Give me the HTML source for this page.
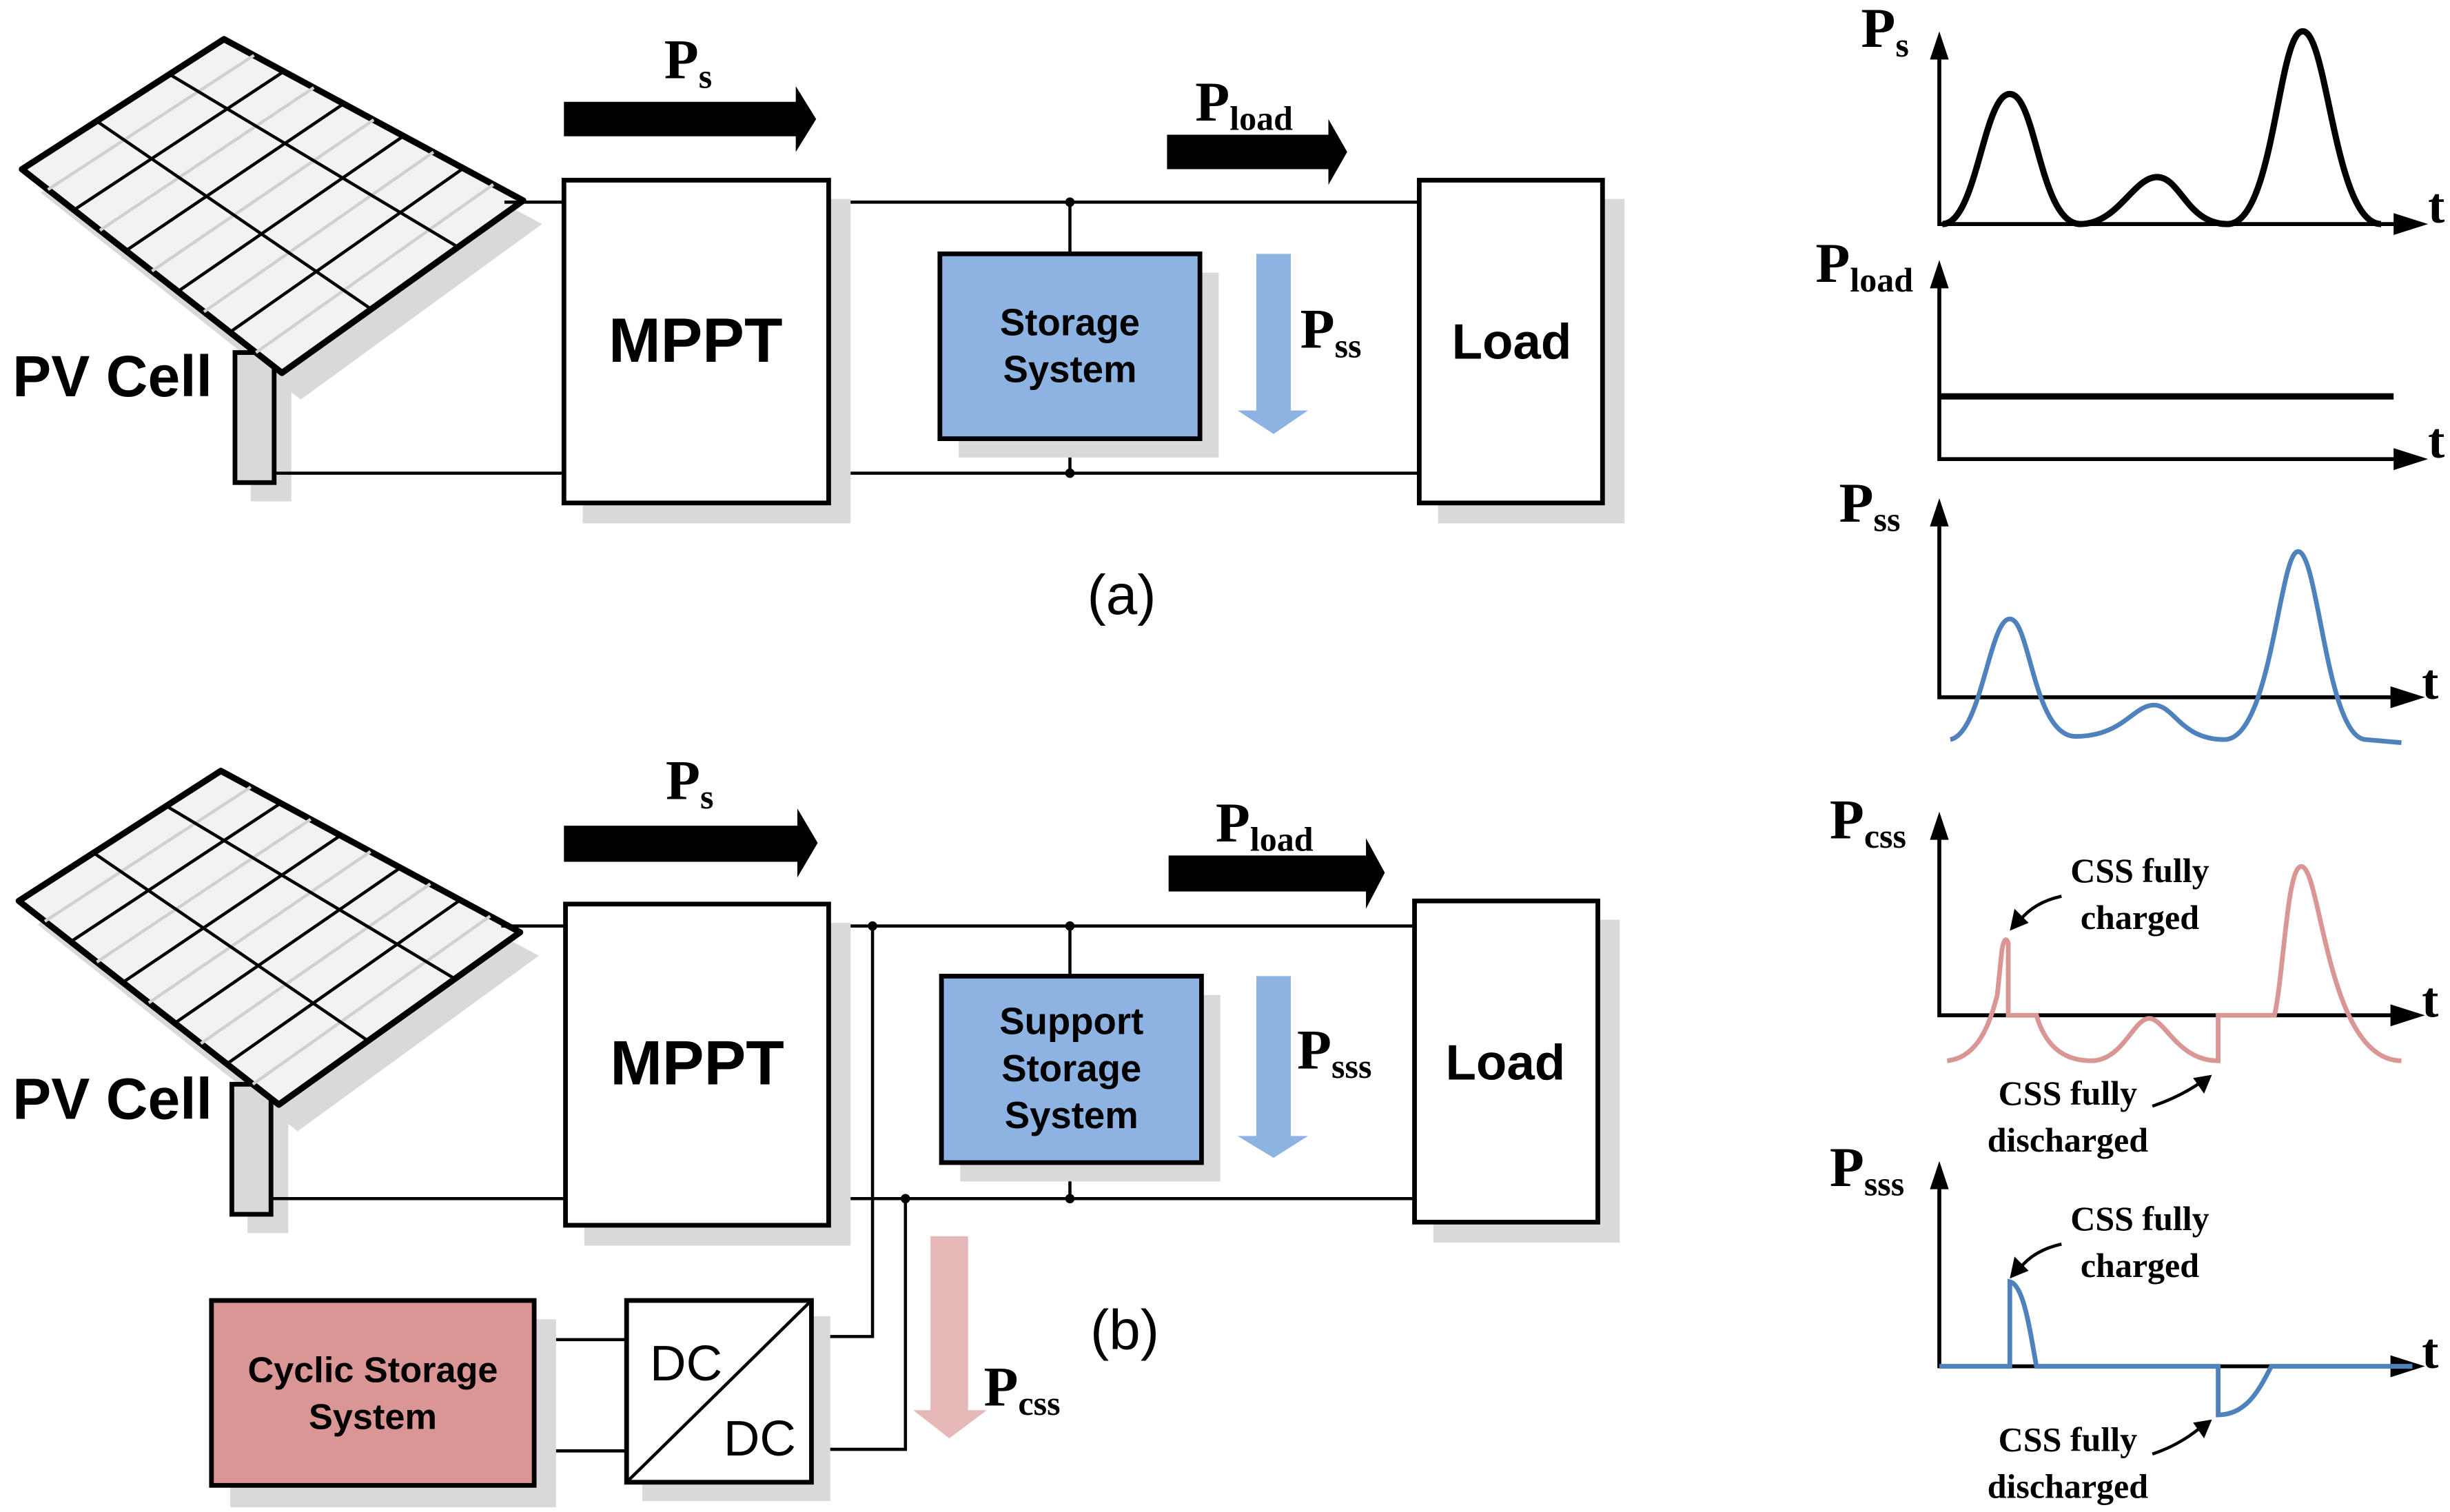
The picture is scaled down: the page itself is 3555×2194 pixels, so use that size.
<!DOCTYPE html>
<html><head><meta charset="utf-8"><style>
html,body{margin:0;padding:0;background:#fff}
svg{display:block}
.s{font-family:"Liberation Sans",sans-serif;font-weight:bold}
.r{font-family:"Liberation Serif",serif;font-weight:bold}
.n{font-family:"Liberation Sans",sans-serif}
</style></head><body>
<svg width="3555" height="2194" viewBox="0 0 1564 965" preserveAspectRatio="none" xmlns="http://www.w3.org/2000/svg">
<defs>
<g id="panel">
  <polygon points="26,123 155,40 346,143 192,255" fill="#d9d9d9"/>
  <rect x="160" y="235" width="26" height="85" fill="#d9d9d9"/>
  <rect x="150" y="225" width="25" height="83" fill="#d9d9d9" stroke="#000" stroke-width="3"/>
  <polygon points="14,108 143,25 334,128 180,238" fill="#f2f2f2" stroke="#000" stroke-width="4" stroke-linejoin="round"/>
  <g stroke="#d0d0d0" stroke-width="2">
    <line x1="30.6" y1="121" x2="162.1" y2="35.3"/>
    <line x1="63.8" y1="147" x2="200.3" y2="55.9"/>
    <line x1="97" y1="173" x2="238.5" y2="76.5"/>
    <line x1="130.2" y1="199" x2="276.7" y2="97.1"/>
    <line x1="163.4" y1="225" x2="314.9" y2="117.7"/>
  </g>
  <g stroke="#000" stroke-width="2">
    <line x1="47.2" y1="134" x2="181.2" y2="45.6"/>
    <line x1="80.4" y1="160" x2="219.4" y2="66.2"/>
    <line x1="113.6" y1="186" x2="257.6" y2="86.8"/>
    <line x1="146.8" y1="212" x2="295.8" y2="107.4"/>
    <line x1="61.7" y1="77.3" x2="237" y2="197.3"/>
    <line x1="108.2" y1="47.4" x2="292.4" y2="157.7"/>
  </g>
</g>
</defs>

<!-- (a) -->
<use href="#panel"/>
<g stroke="#000" stroke-width="2" fill="none">
  <line x1="322" y1="129" x2="360" y2="129"/>
  <line x1="175" y1="302" x2="360" y2="302"/>
  <line x1="529" y1="129" x2="906" y2="129"/>
  <line x1="529" y1="302" x2="906" y2="302"/>
  <line x1="683" y1="129" x2="683" y2="162"/>
  <line x1="683" y1="280" x2="683" y2="302"/>
</g>
<circle cx="683" cy="129" r="3"/><circle cx="683" cy="302" r="3"/>
<rect x="372" y="127" width="171" height="207" fill="#d9d9d9"/>
<rect x="360" y="115" width="169" height="206" fill="#fff" stroke="#000" stroke-width="3"/>
<text x="444" y="231" class="s" font-size="40" text-anchor="middle">MPPT</text>
<rect x="612" y="174" width="166" height="118" fill="#d9d9d9"/>
<rect x="600" y="162" width="166" height="118" fill="#8db3e2" stroke="#000" stroke-width="3"/>
<text x="683" y="214" class="s" font-size="24" text-anchor="middle">Storage</text>
<text x="683" y="244" class="s" font-size="24" text-anchor="middle">System</text>
<polygon points="802,162 824,162 824,262 835,262 813,277 790,262 802,262" fill="#8db3e2"/>
<text x="830" y="222" class="r" font-size="36">P<tspan font-size="22" dy="6">ss</tspan></text>
<rect x="918" y="127" width="119" height="207" fill="#d9d9d9"/>
<rect x="906" y="115" width="117" height="206" fill="#fff" stroke="#000" stroke-width="3"/>
<text x="965" y="229" class="s" font-size="32" text-anchor="middle">Load</text>
<polygon points="360,65 508,65 508,55 521,76 508,97 508,87 360,87" fill="#000"/>
<text x="424" y="50" class="r" font-size="36">P<tspan font-size="22" dy="6">s</tspan></text>
<polygon points="745,86 848,86 848,76 860,97 848,118 848,108 745,108" fill="#000"/>
<text x="763" y="77" class="r" font-size="36">P<tspan font-size="22" dy="6">load</tspan></text>
<text x="716" y="392" class="n" font-size="36" text-anchor="middle">(a)</text>
<text x="8" y="253" class="s" font-size="37">PV Cell</text>

<!-- (b) -->
<g transform="translate(-2,467)"><use href="#panel"/></g>
<text x="8" y="714" class="s" font-size="37">PV Cell</text>
<g stroke="#000" stroke-width="2" fill="none">
  <line x1="320" y1="591" x2="361" y2="591"/>
  <line x1="173" y1="765" x2="361" y2="765"/>
  <line x1="529" y1="591" x2="903" y2="591"/>
  <line x1="529" y1="765" x2="903" y2="765"/>
  <line x1="683" y1="591" x2="683" y2="623"/>
  <line x1="683" y1="742" x2="683" y2="765"/>
  <polyline points="557,591 557,853 518,853"/>
  <polyline points="578,765 578,925 518,925"/>
  <line x1="341" y1="855" x2="400" y2="855"/>
  <line x1="341" y1="926" x2="400" y2="926"/>
</g>
<circle cx="683" cy="591" r="3"/><circle cx="683" cy="765" r="3"/>
<circle cx="557" cy="591" r="3"/><circle cx="578" cy="765" r="3"/>
<rect x="373" y="589" width="170" height="206" fill="#d9d9d9"/>
<rect x="361" y="577" width="168" height="205" fill="#fff" stroke="#000" stroke-width="3"/>
<text x="445" y="692" class="s" font-size="40" text-anchor="middle">MPPT</text>
<rect x="613" y="635" width="166" height="119" fill="#d9d9d9"/>
<rect x="601" y="623" width="166" height="119" fill="#8db3e2" stroke="#000" stroke-width="3"/>
<text x="684" y="660" class="s" font-size="24" text-anchor="middle">Support</text>
<text x="684" y="690" class="s" font-size="24" text-anchor="middle">Storage</text>
<text x="684" y="720" class="s" font-size="24" text-anchor="middle">System</text>
<polygon points="802,623 824,623 824,725 835,725 813,739 790,725 802,725" fill="#8db3e2"/>
<text x="828" y="682" class="r" font-size="36">P<tspan font-size="22" dy="6">sss</tspan></text>
<rect x="915" y="587" width="119" height="206" fill="#d9d9d9"/>
<rect x="903" y="575" width="117" height="205" fill="#fff" stroke="#000" stroke-width="3"/>
<text x="961" y="689" class="s" font-size="32" text-anchor="middle">Load</text>
<polygon points="360,527 509,527 509,516 522,538 509,560 509,550 360,550" fill="#000"/>
<text x="425" y="510" class="r" font-size="36">P<tspan font-size="22" dy="6">s</tspan></text>
<polygon points="746,546 872,546 872,535 884,557 872,580 872,569 746,569" fill="#000"/>
<text x="776" y="537" class="r" font-size="36">P<tspan font-size="22" dy="6">load</tspan></text>
<polygon points="594,789 618,789 618,900 630,900 606,918 583,900 594,900" fill="#e6b8b7"/>
<text x="628" y="897" class="r" font-size="36">P<tspan font-size="22" dy="6">css</tspan></text>
<rect x="147" y="842" width="208" height="120" fill="#d9d9d9"/>
<rect x="135" y="830" width="206" height="118" fill="#d99694" stroke="#000" stroke-width="3"/>
<text x="238" y="882" class="s" font-size="23" text-anchor="middle">Cyclic Storage</text>
<text x="238" y="912" class="s" font-size="23" text-anchor="middle">System</text>
<rect x="410" y="840" width="120" height="118" fill="#d9d9d9"/>
<rect x="400" y="830" width="118" height="116" fill="#fff" stroke="#000" stroke-width="3"/>
<line x1="400" y1="946" x2="518" y2="830" stroke="#000" stroke-width="2"/>
<text x="438" y="881" class="n" font-size="32" text-anchor="middle">DC</text>
<text x="485" y="929" class="n" font-size="32" text-anchor="middle">DC</text>
<text x="718" y="861" class="n" font-size="36" text-anchor="middle">(b)</text>

<!-- right graphs -->
<g stroke="#000" stroke-width="2.5" fill="none">
  <polyline points="1238,32 1238,143 1530,143"/>
  <polyline points="1238,180 1238,293 1530,293"/>
  <polyline points="1238,332 1238,445 1530,445"/>
  <polyline points="1238,532 1238,648 1530,648"/>
  <polyline points="1238,755 1238,872 1530,872"/>
</g>
<g fill="#000">
  <polygon points="1238,20 1232,38 1244,38"/><polygon points="1550,143 1528,136 1528,150"/>
  <polygon points="1238,166 1232,184 1244,184"/><polygon points="1550,293 1528,286 1528,300"/>
  <polygon points="1238,318 1232,336 1244,336"/><polygon points="1548,445 1526,438 1526,452"/>
  <polygon points="1238,518 1232,536 1244,536"/><polygon points="1548,648 1526,641 1526,655"/>
  <polygon points="1238,741 1232,759 1244,759"/><polygon points="1548,872 1526,865 1526,879"/>
</g>
<text x="1188" y="30" class="r" font-size="36">P<tspan font-size="22" dy="6">s</tspan></text>
<text x="1159" y="180" class="r" font-size="36">P<tspan font-size="22" dy="6">load</tspan></text>
<text x="1174" y="333" class="r" font-size="36">P<tspan font-size="22" dy="6">ss</tspan></text>
<text x="1168" y="535" class="r" font-size="36">P<tspan font-size="22" dy="6">css</tspan></text>
<text x="1168" y="757" class="r" font-size="36">P<tspan font-size="22" dy="6">sss</tspan></text>
<g class="r" font-size="32">
<text x="1550" y="142">t</text><text x="1550" y="292">t</text><text x="1546" y="446">t</text><text x="1546" y="649">t</text><text x="1546" y="873">t</text>
</g>
<path d="M1240,143 C1262,143 1266,60 1283,60 C1300,60 1302,143 1328,143 C1352,143 1362,113 1377,113 C1392,113 1396,143 1422,143 C1452,143 1454,20 1470,20 C1486,20 1490,143 1520,143" fill="none" stroke="#000" stroke-width="4"/>
<line x1="1238" y1="253" x2="1528" y2="253" stroke="#000" stroke-width="4"/>
<path d="M1245,472 C1265,468 1270,395 1283,395 C1296,395 1298,470 1325,470 C1355,470 1362,450 1375,450 C1388,450 1392,472 1420,472 C1450,472 1455,352 1467,352 C1480,352 1485,470 1510,472 L1533,474" fill="none" stroke="#4f81bd" stroke-width="3"/>
<path d="M1243,677 C1262,675 1270,655 1275,635 L1278,606 Q1280,596 1282,602 L1282,648 L1300,648 C1305,665 1315,677 1335,677 C1355,677 1362,650 1372,650 C1382,650 1390,677 1416,677 L1416,648 L1452,648 C1458,620 1460,553 1469,553 C1482,553 1485,677 1533,677" fill="none" stroke="#d99694" stroke-width="3"/>
<path d="M1238,872 L1283,872 L1283,818 C1292,820 1296,850 1300,872 L1416,872 L1416,903 C1435,903 1443,885 1450,872 L1540,872" fill="none" stroke="#4f81bd" stroke-width="3"/>
<g class="r" font-size="22" text-anchor="middle">
<text x="1366" y="563">CSS fully</text><text x="1366" y="593">charged</text>
<text x="1320" y="705">CSS fully</text><text x="1320" y="735">discharged</text>
<text x="1366" y="785">CSS fully</text><text x="1366" y="815">charged</text>
<text x="1320" y="926">CSS fully</text><text x="1320" y="956">discharged</text>
</g>
<g stroke="#000" stroke-width="2" fill="none">
<path d="M1316,572 Q1298,576 1289,588"/>
<path d="M1374,706 Q1392,700 1406,690"/>
<path d="M1316,794 Q1298,798 1289,810"/>
<path d="M1374,928 Q1392,922 1406,910"/>
</g>
<g fill="#000">
<polygon points="1283,594 1286,580 1295,589"/>
<polygon points="1412,686 1400,688 1407,698"/>
<polygon points="1283,816 1286,802 1295,811"/>
<polygon points="1412,906 1400,908 1407,918"/>
</g>
</svg>
</body></html>
